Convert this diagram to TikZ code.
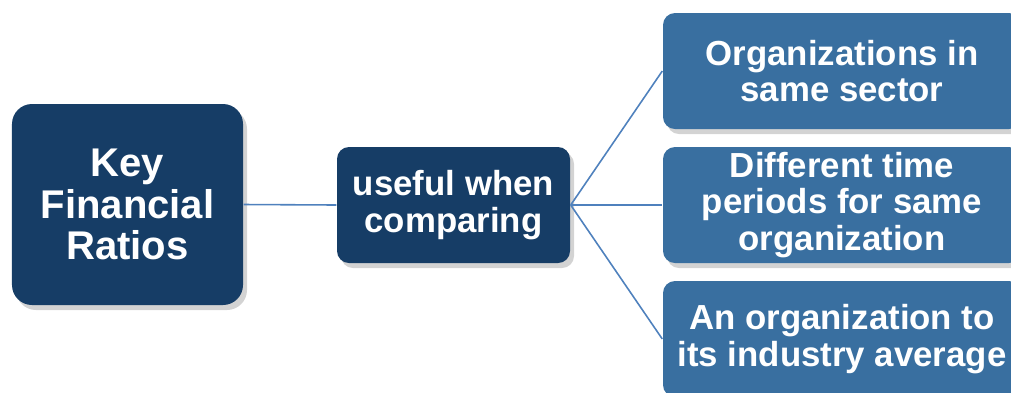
\documentclass[tikz,border=0pt]{standalone}
\usepackage{fontspec}
\setmainfont{Liberation Sans}
\usetikzlibrary{shadows}
\definecolor{navy}{HTML}{163D66}
\definecolor{steel}{HTML}{396FA0}
\definecolor{linkblue}{HTML}{4F81BD}

\begin{document}
\begin{tikzpicture}[
  box/.style={rounded corners=0.12cm, text=white, align=center, inner sep=0pt,
    font=\bfseries\fontsize{9.9}{10.3}\selectfont,
    drop shadow={shadow xshift=0.04cm, shadow yshift=-0.05cm, opacity=0.35}},
  darkbox/.style={box, fill=navy},
  lightbox/.style={box, fill=steel, minimum width=3.58cm, minimum height=1.16cm},
  link/.style={draw=linkblue, line width=0.45pt}]
  \useasboundingbox (0,0) rectangle (10.11,-3.92);

  % root and middle
  \node[darkbox, rounded corners=0.2cm, minimum width=2.31cm, minimum height=2.01cm,
    font=\bfseries\fontsize{11.4}{11.8}\selectfont] (ratios) at (1.275,-2.045)
    {Key\\Financial\\Ratios};
  \node[darkbox, minimum width=2.33cm, minimum height=1.16cm] (useful) at (4.535,-2.05)
    {useful when\\comparing};

  % the three comparisons
  \node[lightbox] (sector) at (8.42,-0.71) {Organizations in\\same sector};
  \node[lightbox] (periods) at (8.42,-2.05) {Different time\\periods for same\\organization};
  \node[lightbox] (industry) at (8.42,-3.39) {An organization to\\its industry average};

  \draw[link] (ratios.east) -- (useful.west);
  \draw[link] (useful.east) -- (sector.west);
  \draw[link] (useful.east) -- (periods.west);
  \draw[link] (useful.east) -- (industry.west);
\end{tikzpicture}
\end{document}
